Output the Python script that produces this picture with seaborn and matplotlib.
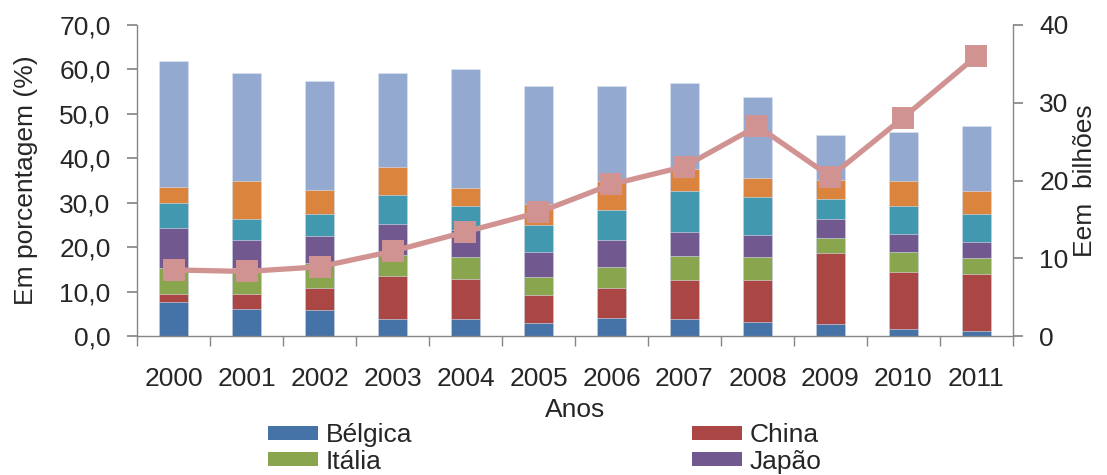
import numpy as np
import pandas as pd
import matplotlib
matplotlib.use("Agg")
import matplotlib.pyplot as plt
from matplotlib.patches import Patch
from matplotlib.ticker import FixedLocator, FuncFormatter
import seaborn as sns

# Shares by country (%) per year
anos = ["2000", "2001", "2002", "2003", "2004", "2005",
        "2006", "2007", "2008", "2009", "2010", "2011"]
belgica = [7.7, 6.0, 5.8, 3.8, 3.8, 2.9, 4.1, 3.8, 3.2, 2.6, 1.5, 1.2]
china = [1.8, 3.5, 4.9, 9.7, 9.1, 6.3, 6.6, 8.8, 9.4, 16.0, 12.9, 12.8]
italia = [5.7, 5.7, 5.7, 4.8, 4.8, 4.0, 4.8, 5.4, 5.1, 3.5, 4.5, 3.5]
japao = [9.1, 6.3, 6.2, 6.9, 6.1, 5.7, 6.0, 5.5, 5.0, 4.2, 4.1, 3.7]
serie5 = [5.7, 4.8, 4.9, 6.5, 5.4, 6.0, 6.9, 9.1, 8.5, 4.5, 6.2, 6.3]
serie6 = [3.5, 8.6, 5.4, 6.3, 4.0, 4.9, 6.5, 4.9, 4.3, 4.3, 5.7, 5.1]
serie7 = [28.5, 24.2, 24.6, 21.1, 26.8, 26.5, 21.4, 19.4, 18.2, 10.1, 11.1, 14.6]

# Total value (billions) per year
total_bilhoes = [8.5, 8.3, 8.9, 10.9, 13.4, 15.9, 19.5, 21.8, 27.0, 20.5, 28.1, 36.0]

nomes = ["Bélgica", "China", "Itália", "Japão", "Série 5", "Série 6", "Série 7"]
cores = ["#4572A7", "#AA4643", "#89A54E", "#71588F", "#4198AF", "#DB843D", "#93A9CF"]
cor_linha = "#D19392"

sns.set_theme(style="white")
plt.rcParams["font.family"] = ["Liberation Sans", "DejaVu Sans"]

series = [belgica, china, italia, japao, serie5, serie6, serie7]
df = pd.DataFrame({n: s for n, s in zip(nomes, series)}, index=anos)
acumulado = df.cumsum(axis=1)

fig = plt.figure(figsize=(11.07, 4.75), dpi=100)
ax = fig.add_axes([0.1238, 0.2926, 0.7912, 0.6548])

# Stacked bars: draw cumulative totals from the top segment down
for nome, cor in reversed(list(zip(nomes, cores))):
    sns.barplot(x=anos, y=acumulado[nome].values, color=cor, width=0.4,
                saturation=1, edgecolor="#dfe6f2", linewidth=0.4, ax=ax,
                errorbar=None)

ax2 = ax.twinx()
sns.pointplot(x=anos, y=total_bilhoes, color=cor_linha, markers="s",
              markersize=12.5, linewidth=3.8, ax=ax2, errorbar=None)

grey = "#868686"
fs = 19
ax.set_ylim(0, 70)
ax2.set_ylim(0, 40)
ax.set_xlim(-0.5, len(anos) - 0.5)
ax2.set_xlim(-0.5, len(anos) - 0.5)

ax.set_yticks(np.arange(0, 71, 10))
ax.yaxis.set_major_formatter(FuncFormatter(lambda v, p: f"{v:.1f}".replace(".", ",")))
ax2.set_yticks(np.arange(0, 41, 10))

ax.xaxis.set_minor_locator(FixedLocator(np.arange(-0.5, len(anos), 1.0)))

for a in (ax, ax2):
    for s in a.spines.values():
        s.set_color(grey)
        s.set_linewidth(1.0)
    a.spines["top"].set_visible(False)
    a.grid(False)
ax.spines["right"].set_visible(False)
ax2.spines["left"].set_visible(False)
ax2.spines["bottom"].set_visible(False)

ax.tick_params(axis="y", which="major", left=True, direction="out", length=7,
               color=grey, labelsize=fs, pad=12)
ax.tick_params(axis="x", which="major", bottom=False, labelsize=fs, pad=16)
ax.tick_params(axis="x", which="minor", bottom=True, direction="out", length=7,
               color=grey)
ax2.tick_params(axis="y", right=True, direction="out", length=7, color=grey,
                labelsize=fs, pad=12)
ax2.set_xlabel("")

ax.set_xlabel("Anos", fontsize=fs, labelpad=5)
ax.set_ylabel("Em porcentagem (%)", fontsize=fs, labelpad=15)
ax2.set_ylabel("Eem  bilhões", fontsize=fs, labelpad=3, rotation=90)

# Two-column legend, filled column by column
ordem = [0, 2, 1, 3]
handles = [Patch(facecolor=cores[i], edgecolor="none") for i in ordem]
rotulos = [nomes[i] for i in ordem]
fig.legend(handles, rotulos, loc="upper left", bbox_to_anchor=(268 / 1107, 1 - 423 / 475),
           ncol=2, frameon=False, fontsize=fs, columnspacing=10.6,
           handlelength=1.9, handleheight=0.45, handletextpad=0.28,
           labelspacing=0.1, borderaxespad=0, borderpad=0)

fig.savefig("out.png", dpi=100)
